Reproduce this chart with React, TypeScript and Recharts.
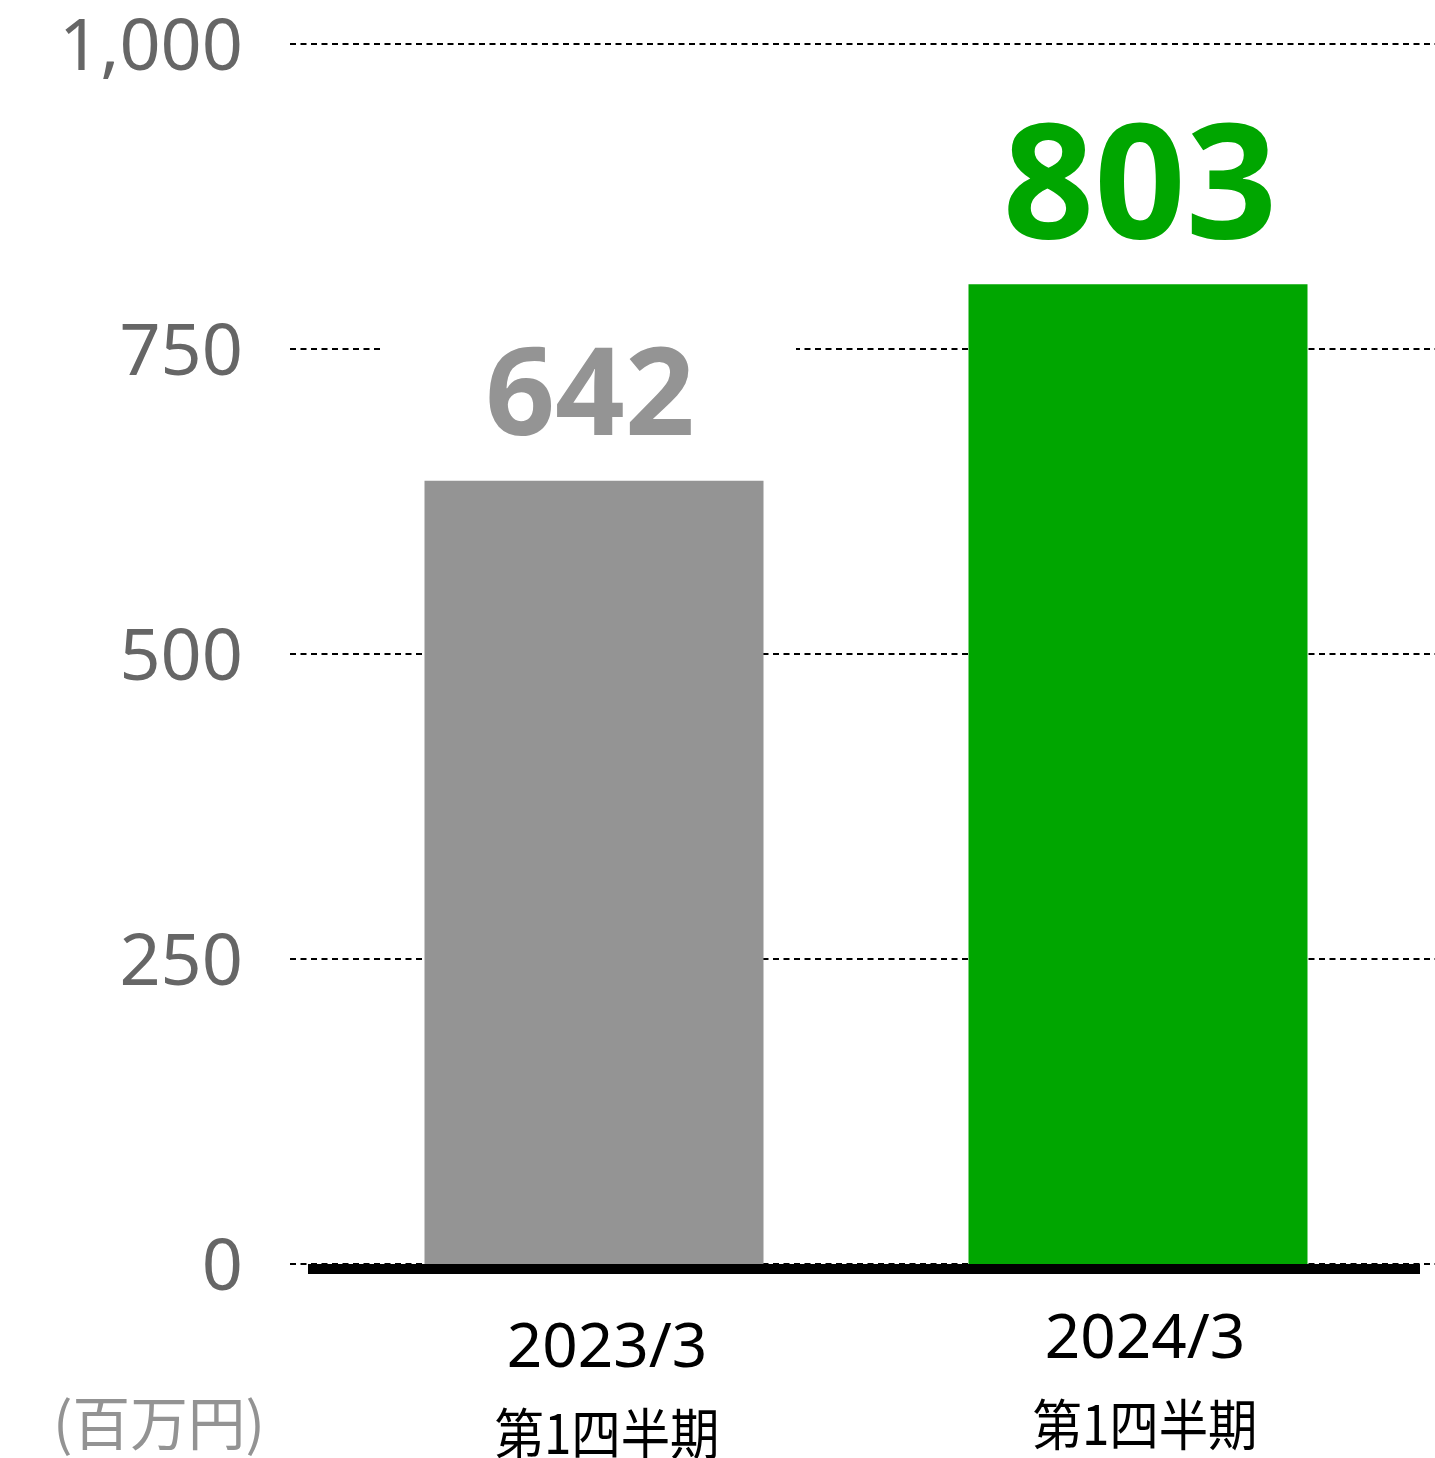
import React from "react";
import { BarChart, Bar, XAxis, YAxis, CartesianGrid, Cell, LabelList, ReferenceLine } from "recharts";

// 四半期売上比較（百万円）
const CATEGORIES = ["2023/3", "2024/3"];
const PERIOD = "第1四半期";
const VALUES = [642, 803];
const Y_TICKS = [0, 250, 500, 750, 1000];
const UNIT = "(百万円)";

const BAR_COLORS = ["#949494", "#00a600"];
const LABEL_SIZES = [122, 160];
const LABEL_DX = [-4, 2];
const TICK_SHIFT = [
  { dx: 13.5, dy: 9 },
  { dx: 7.5, dy: 0 },
];

const W = 1435;
const H = 1458;
const LATIN = "'Noto Sans', 'Open Sans', sans-serif";
const CJK = "'Noto Sans CJK JP', 'Noto Sans', sans-serif";

const data = CATEGORIES.map((c, i) => ({ name: c, value: VALUES[i] }));

function XTick(props: any) {
  const { x, y, payload, index } = props;
  const s = TICK_SHIFT[index] || { dx: 0, dy: 0 };
  const cx = x + s.dx;
  return (
    <g>
      <text x={cx} y={y + 86 + s.dy} textAnchor="middle" fontFamily={LATIN} fontSize={62} fill="#000">
        {payload.value}
      </text>
      <text
        x={cx}
        y={y + 173 + s.dy}
        textAnchor="middle"
        fontFamily={CJK}
        fontSize={55}
        fill="#000"
        textLength={225}
        lengthAdjust="spacingAndGlyphs"
      >
        {PERIOD}
      </text>
    </g>
  );
}

function ValueLabel(props: any) {
  const { x, y, width, value, index } = props;
  const cx = x + width / 2;
  return (
    <g>
      <rect x={cx - 213} y={y - 153} width={415} height={143} fill="#fff" />
      <text
        x={cx + LABEL_DX[index]}
        y={y - 46}
        textAnchor="middle"
        fontFamily={LATIN}
        fontWeight={700}
        fontSize={LABEL_SIZES[index]}
        fill={BAR_COLORS[index]}
      >
        {value}
      </text>
    </g>
  );
}

function BaseLine(props: any) {
  const { x1, x2, y1 } = props;
  return <line x1={x1 + 18} x2={x2 - 15} y1={y1 + 5} y2={y1 + 5} stroke="#000" strokeWidth={10} />;
}

export default function App() {
  return (
    <div style={{ position: "absolute", left: 0, top: 0, width: W, height: H, background: "#fff" }}>
      <BarChart width={W} height={H} data={data} margin={{ top: 44, right: 0, bottom: 0, left: 0 }}>
        <CartesianGrid vertical={false} stroke="#000" strokeWidth={2} strokeDasharray="6 4.5" />
        <XAxis
          dataKey="name"
          axisLine={false}
          tickLine={false}
          height={194}
          padding={{ left: 31.5, right: 25.5 }}
          tick={<XTick />}
          interval={0}
        />
        <YAxis
          width={290}
          domain={[0, 1000]}
          ticks={Y_TICKS}
          axisLine={false}
          tickLine={false}
          tickMargin={41}
          tick={{ fill: "#666", fontSize: 72, fontFamily: LATIN }}
          tickFormatter={(v: number) => v.toLocaleString("en-US")}
        />
        <Bar dataKey="value" barSize={339} isAnimationActive={false}>
          {data.map((_, i) => (
            <Cell key={i} fill={BAR_COLORS[i]} />
          ))}
          <LabelList dataKey="value" content={<ValueLabel />} />
        </Bar>
        <ReferenceLine y={0} shape={<BaseLine />} />
      </BarChart>
      <svg width={300} height={80} style={{ position: "absolute", left: 0, top: 1380 }}>
        <text
          x={159}
          y={65}
          textAnchor="middle"
          fontFamily={CJK}
          fontSize={58}
          fill="#939393"
          textLength={212}
          lengthAdjust="spacingAndGlyphs"
        >
          {UNIT}
        </text>
      </svg>
    </div>
  );
}
